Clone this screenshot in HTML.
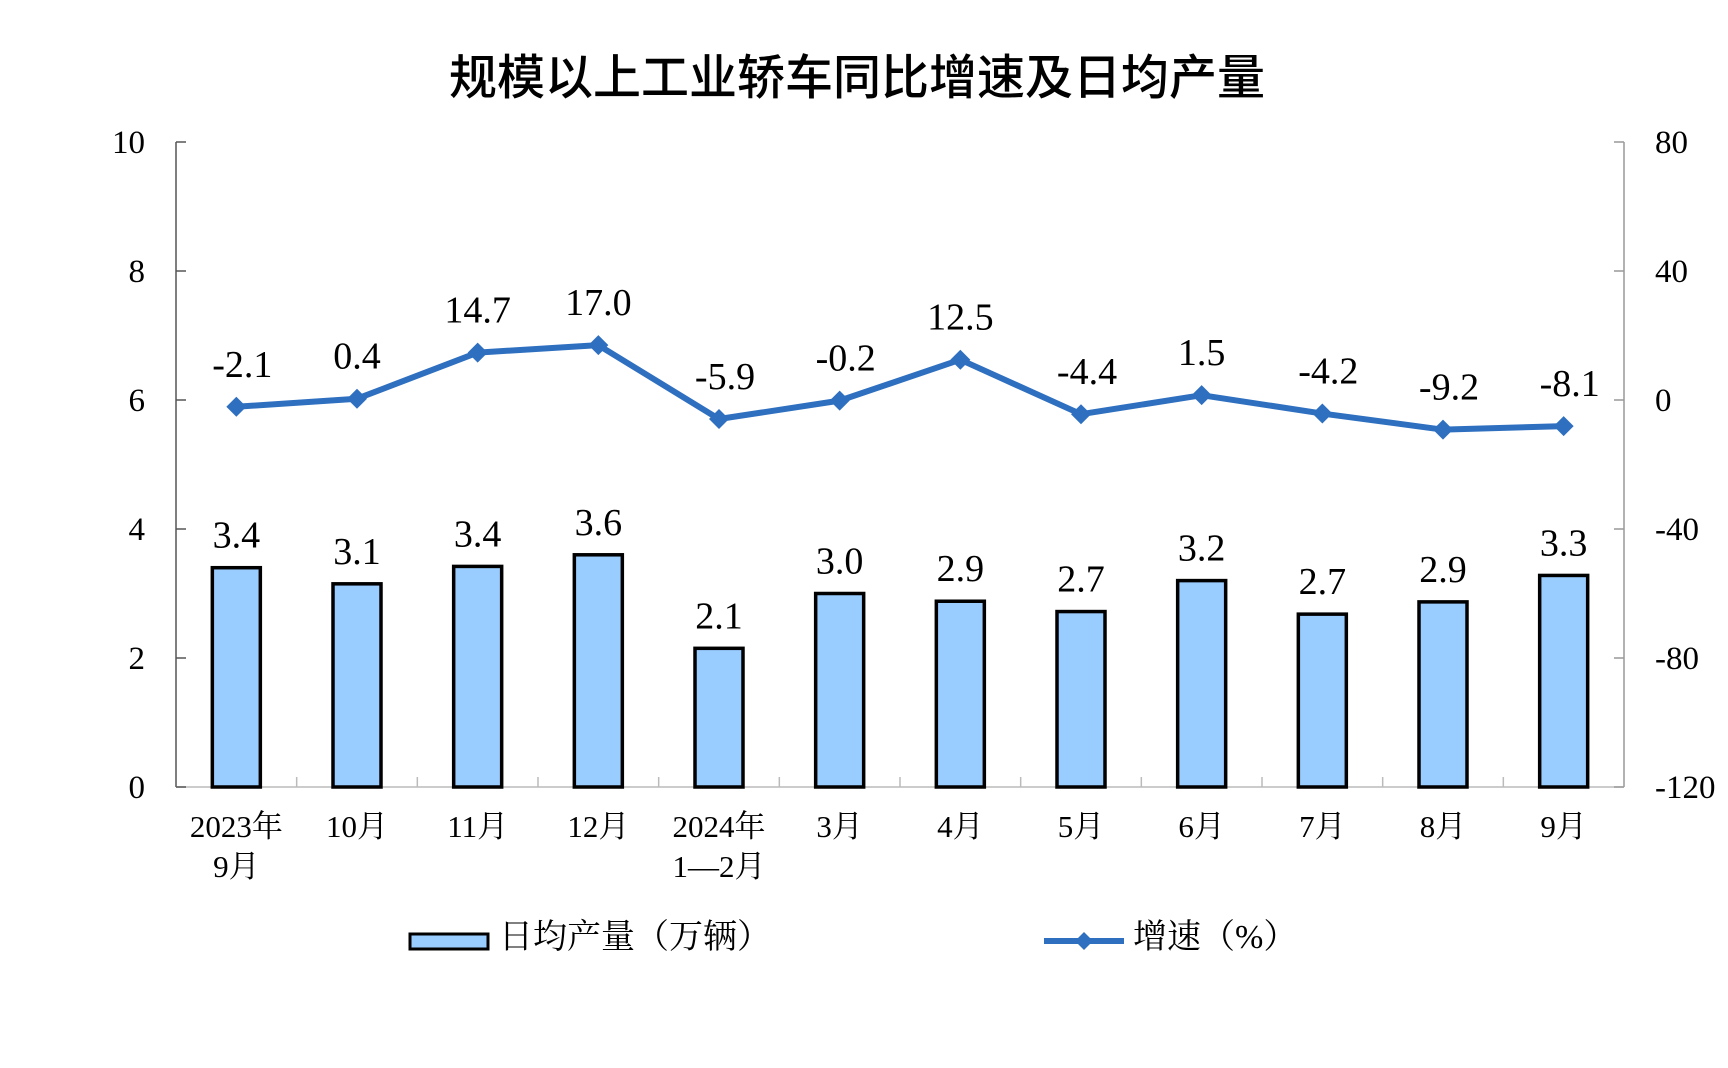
<!DOCTYPE html>
<html><head><meta charset="utf-8"><style>
html,body{margin:0;padding:0;background:#fff;}
svg{display:block;}
text{font-family:"Liberation Serif","Noto Serif CJK SC","Noto Sans CJK SC",serif;fill:#000;}
</style></head><body>
<svg id="c" width="1728" height="1068" viewBox="0 0 1728 1068" xmlns="http://www.w3.org/2000/svg">
<text x="857" y="94" font-size="48" text-anchor="middle" style="font-family:'Liberation Sans','Noto Sans CJK SC',sans-serif;font-weight:500">规模以上工业轿车同比增速及日均产量</text>
<line x1="176" y1="142" x2="176" y2="787" stroke="#555" stroke-width="1.5"/>
<line x1="1624" y1="142" x2="1624" y2="787" stroke="#999" stroke-width="1.5"/>
<line x1="176" y1="787" x2="1624" y2="787" stroke="#bbb" stroke-width="1.5"/>
<g id="g"></g>
<rect x="410" y="934" width="78" height="15" fill="#99ccff" stroke="#000" stroke-width="3"/>
<text x="499" y="948" font-size="34" style="font-family:'Liberation Serif','Noto Serif CJK SC',serif">日均产量（万辆）</text>
<line x1="1044" y1="941" x2="1124" y2="941" stroke="#2e6fc0" stroke-width="6"/>
<path d="M1084 932 L1093 941 L1084 950 L1075 941Z" fill="#2e6fc0"/>
<text x="1133" y="948" font-size="34" style="font-family:'Liberation Serif','Noto Serif CJK SC',serif">增速（%）</text>
</svg>
<script>
var g=document.getElementById('g'),s='';
var L=176,R=1624,T=142,B=787,W=(R-L)/12;
for(var i=0;i<=5;i++){var y=B-i*2*64.5;s+='<line x1="176" y1="'+y+'" x2="186" y2="'+y+'" stroke="#555" stroke-width="1.5"/><text x="145" y="'+(y+11)+'" font-size="33" text-anchor="end">'+(i*2)+'</text>';}
var rv=[80,40,0,-40,-80,-120];
for(var i=0;i<6;i++){var y=T+i*129;s+='<line x1="1614" y1="'+y+'" x2="1624" y2="'+y+'" stroke="#999" stroke-width="1.5"/><text x="1655" y="'+(y+11)+'" font-size="33">'+rv[i]+'</text>';}
for(var i=1;i<12;i++){var x=L+i*W;s+='<line x1="'+x+'" y1="777" x2="'+x+'" y2="787" stroke="#bbb" stroke-width="1.5"/>';}
var bars=[3.4,3.15,3.42,3.6,2.15,3.0,2.88,2.72,3.2,2.68,2.87,3.28],bl=['3.4','3.1','3.4','3.6','2.1','3.0','2.9','2.7','3.2','2.7','2.9','3.3'];
var ln=[-2.1,0.4,14.7,17.0,-5.9,-0.2,12.5,-4.4,1.5,-4.2,-9.2,-8.1];
var c1=['2023年','10月','11月','12月','2024年','3月','4月','5月','6月','7月','8月','9月'],c2=['9月','','','','1—2月','','','','','','',''];
var pts=[];
for(var i=0;i<12;i++){var cx=L+W*(i+.5),h=bars[i]*64.5;
s+='<rect x="'+(cx-24)+'" y="'+(B-h)+'" width="48" height="'+h+'" fill="#99ccff" stroke="#000" stroke-width="3.5"/>';
s+='<text x="'+cx+'" y="'+(B-h-20)+'" font-size="38" text-anchor="middle">'+bl[i]+'</text>';
s+='<text x="'+cx+'" y="837" font-size="31" text-anchor="middle">'+c1[i]+'</text>';
if(c2[i])s+='<text x="'+cx+'" y="877" font-size="31" text-anchor="middle">'+c2[i]+'</text>';
var py=400-ln[i]*3.225;pts.push(cx+','+py);}
s+='<polyline points="'+pts.join(' ')+'" fill="none" stroke="#2e6fc0" stroke-width="6" stroke-linejoin="round"/>';
for(var i=0;i<12;i++){var cx=L+W*(i+.5),py=400-ln[i]*3.225;
s+='<path d="M'+cx+' '+(py-10)+' L'+(cx+10)+' '+py+' L'+cx+' '+(py+10)+' L'+(cx-10)+' '+py+'Z" fill="#2e6fc0"/>';
s+='<text x="'+(cx+(ln[i]<0?6:0))+'" y="'+(py-30)+'" font-size="38" text-anchor="middle">'+ln[i].toFixed(1)+'</text>';}
g.innerHTML=s;
</script>
</body></html>
